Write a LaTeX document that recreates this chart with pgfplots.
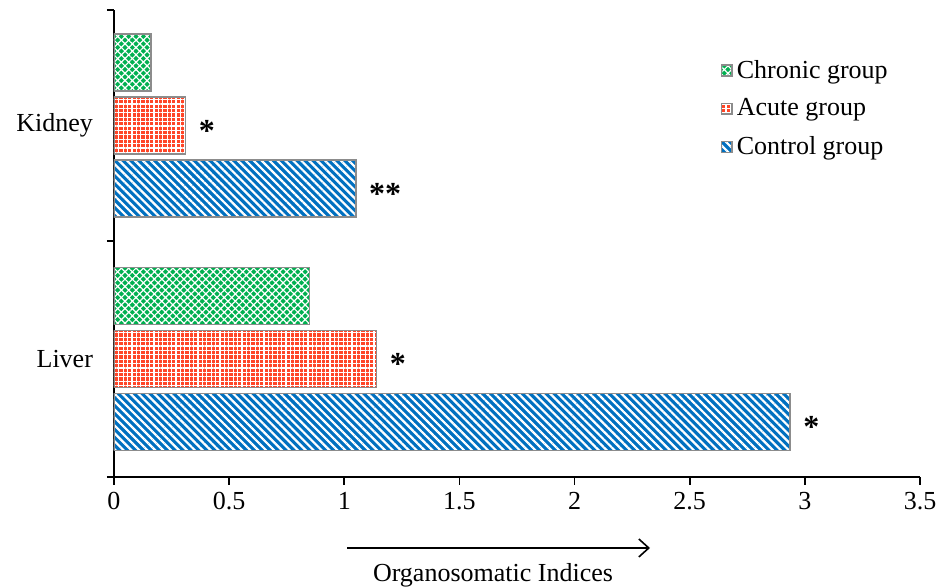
\documentclass[border=0pt]{standalone}
\usepackage{pgfplots}
\pgfplotsset{compat=1.18}
\usepackage{fontspec}
\setmainfont{Liberation Serif}
\usetikzlibrary{patterns.meta,arrows.meta}
\definecolor{cblue}{RGB}{0,112,192}
\definecolor{cred}{RGB}{255,70,40}
\definecolor{cgreen}{RGB}{0,176,80}
\definecolor{cborder}{RGB}{140,140,140}
\begin{document}
\begin{tikzpicture}[font=\fontsize{13}{15.6}\selectfont]
\useasboundingbox (0,0) rectangle (469.5pt,294pt);
\begin{axis}[
  at={(57pt,55.5pt)}, anchor=south west,
  scale only axis, width=403pt, height=233.5pt,
  xbar, bar width=0.243,
  xmin=0, xmax=3.5, ymin=0, ymax=1.98,
  xtick={0,0.5,1,1.5,2,2.5,3,3.5},
  xticklabels={0,0.5,1,1.5,2,2.5,3,3.5},
  ytick={0.5,1.49}, yticklabels={Liver,Kidney},
  minor ytick={0,1,1.98},
  axis x line=bottom, axis y line=left,
  axis line style={-, line width=0.8pt},
  tick align=outside, major tick length=4pt, minor tick length=3.5pt,
  major x tick style={line width=0.8pt, black},
  major y tick style={draw=none},
  minor y tick style={line width=0.8pt, black},
  yticklabel style={xshift=-3pt},
  /pgf/number format/assume math mode=true,
  point meta=explicit symbolic,
  nodes near coords style={anchor=west, xshift=3pt, yshift=-2.5pt, font=\fontsize{16}{19}\selectfont\bfseries},
  reverse legend,
  legend cell align=left,
  legend style={at={(0.752,0.902)}, anchor=north west, draw=none, fill=none, inner sep=0pt,
    row sep=4.8pt, font=\fontsize{13}{15.6}\selectfont},
  legend image code/.code={\draw[#1] (0pt,-2.6pt) rectangle (5.4pt,2.8pt);},
]
\addplot[bar shift=-0.267, fill=cblue, draw=cborder, line width=0.75pt,
  postaction={pattern={Lines[angle=-45,distance=2.8pt,line width=1.1pt]}, pattern color=white},
  nodes near coords]
  coordinates {(2.935,0.5) [*] (1.05,1.49) [**]};
\addlegendentry{Control group}
\addplot[bar shift=0, fill=cred, draw=cborder, line width=0.75pt,
  postaction={pattern={Hatch[angle=0,distance=2.2pt,line width=0.55pt]}, pattern color=white},
  nodes near coords]
  coordinates {(1.14,0.5) [*] (0.31,1.49) [*]};
\addlegendentry{Acute group}
\addplot[bar shift=0.267, fill=cgreen, draw=cborder, line width=0.75pt,
  postaction={pattern={Hatch[angle=45,distance=2.6pt,line width=0.6pt]}, pattern color=white}]
  coordinates {(0.85,0.5) (0.16,1.49)};
\addlegendentry{Chronic group}
\end{axis}
\draw[line width=0.8pt, -{Straight Barb[length=5pt,width=9pt]}] (173.5pt,20pt) -- (325pt,20pt);
\node[anchor=base, inner sep=0pt] at (246.5pt,3pt) {Organosomatic Indices};
\end{tikzpicture}
\end{document}
